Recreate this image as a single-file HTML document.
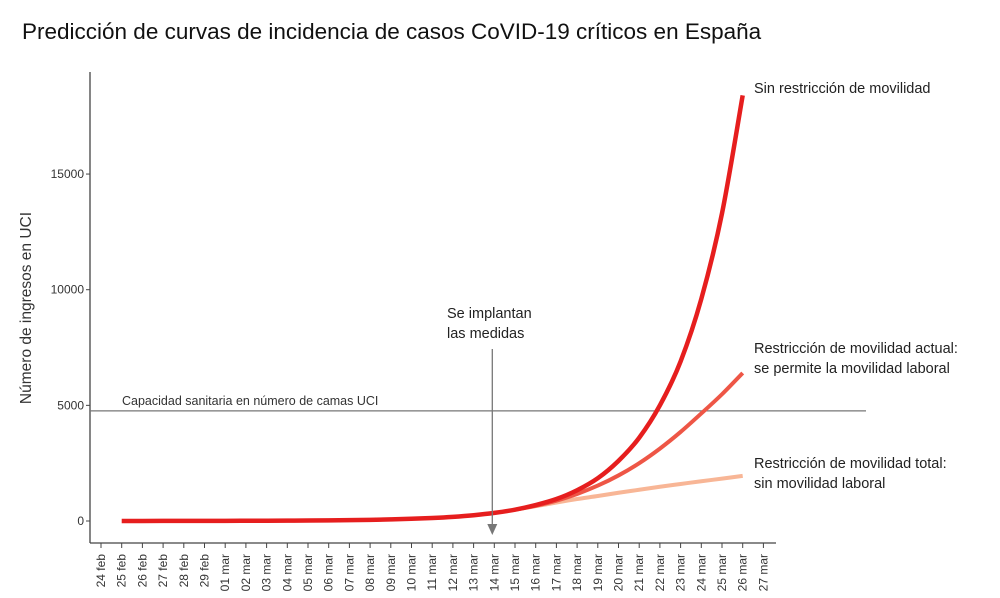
<!DOCTYPE html>
<html><head><meta charset="utf-8"><style>
body{margin:0;background:#fff;}
svg{display:block;font-family:"Liberation Sans",sans-serif;}
</style></head><body>
<svg id="chart" width="1000" height="598">
<text x="22" y="39" font-size="22.5" fill="#111">Predicción de curvas de incidencia de casos CoVID-19 críticos en España</text>
<text transform="translate(31,308) rotate(-90)" text-anchor="middle" font-size="15.5" fill="#333">Número de ingresos en UCI</text>
<g id="axes"></g>
<g id="series"></g>
</svg>
<script>
const dates=["24 feb","25 feb","26 feb","27 feb","28 feb","29 feb","01 mar","02 mar","03 mar","04 mar","05 mar","06 mar","07 mar","08 mar","09 mar","10 mar","11 mar","12 mar","13 mar","14 mar","15 mar","16 mar","17 mar","18 mar","19 mar","20 mar","21 mar","22 mar","23 mar","24 mar","25 mar","26 mar","27 mar"];
const yTicks=[0,5000,10000,15000];
const capacity=4760;
const sinRestriccion=[null,2,2,3,4,5,7,9,12,16,21,28,37,50,70,95,130,180,250,350,490,690,950,1330,1850,2600,3600,5000,6900,9600,13300,18400,null];
const restriccionActual=[null,null,null,null,null,null,null,null,null,null,null,null,null,null,null,null,null,null,null,null,490,660,880,1170,1530,1970,2500,3130,3850,4650,5480,6400,null];
const restriccionTotal=[null,null,null,null,null,null,null,null,null,null,null,null,null,null,null,null,null,null,null,null,490,640,800,950,1080,1220,1350,1480,1600,1720,1830,1950,null];
const measureIndex=19;

const NS="http://www.w3.org/2000/svg";
const x0=101,dx=20.7,y0=521,ky=0.02313;
const X=i=>x0+i*dx, Y=v=>y0-v*ky;
function mk(tag,attrs,parent){const e=document.createElementNS(NS,tag);for(const k in attrs)e.setAttribute(k,attrs[k]);parent.appendChild(e);return e;}
const axes=document.getElementById('axes'), ser=document.getElementById('series');

let yl=mk('line',{x1:90,y1:72,x2:90,y2:543,stroke:'#444','stroke-width':1.3},axes);


let xl=mk('line',{x1:90,y1:543,x2:776,y2:543,stroke:'#444','stroke-width':1.3},axes);



yTicks.forEach(v=>{
  mk('line',{x1:86,y1:Y(v),x2:90,y2:Y(v),stroke:'#444'},axes);
  const t=mk('text',{x:84,y:Y(v)+4,'text-anchor':'end','font-size':12,fill:'#333'},axes);
  t.textContent=v;
  
  
});
dates.forEach((d,i)=>{
  mk('line',{x1:X(i),y1:543,x2:X(i),y2:548,stroke:'#444'},axes);
  const t=mk('text',{transform:`translate(${X(i)+4},554) rotate(-90)`,'text-anchor':'end','font-size':12,fill:'#333'},axes);
  t.textContent=d;
  
  
});

const cap=mk('line',{x1:90,y1:Y(capacity),x2:866,y2:Y(capacity),stroke:'#777','stroke-width':1.3},axes);


const capT=mk('text',{x:122,y:Y(capacity)-6,'font-size':12.5,fill:'#333'},axes);
capT.textContent='Capacidad sanitaria en número de camas UCI';



function path(arr){
  const pts=[];arr.forEach((v,i)=>{if(v!==null)pts.push([X(i),Y(v)]);});
  let d=`M${pts[0][0]},${pts[0][1]}`;
  for(let i=0;i<pts.length-1;i++){
    const p0=pts[i-1]||pts[i],p1=pts[i],p2=pts[i+1],p3=pts[i+2]||p2;
    d+=` C${p1[0]+(p2[0]-p0[0])/6},${p1[1]+(p2[1]-p0[1])/6} ${p2[0]-(p3[0]-p1[0])/6},${p2[1]-(p3[1]-p1[1])/6} ${p2[0]},${p2[1]}`;
  }
  return d;
}
const lt=mk('path',{d:path(restriccionTotal),fill:'none',stroke:'#f8b696','stroke-width':4,'stroke-linecap':'butt'},ser);


const la=mk('path',{d:path(restriccionActual),fill:'none',stroke:'#ee5646','stroke-width':4},ser);


const ls=mk('path',{d:path(sinRestriccion),fill:'none',stroke:'#e61e1e','stroke-width':4.5},ser);



const mx=X(measureIndex)-2;
const arr=mk('line',{x1:mx,y1:349,x2:mx,y2:525,stroke:'#777','stroke-width':1.3},ser);


mk('polygon',{points:`${mx-5},524 ${mx+5},524 ${mx},535`,fill:'#777'},ser);
function label(lines,x,y,name){
  const t=mk('text',{x:x,y:y,'font-size':14.5,fill:'#222'},ser);
  
  
  lines.forEach((l,i)=>{const s=mk('tspan',{x:x,dy:i?20:0},t);s.textContent=l;});
}
label(['Se implantan','las medidas'],447,318,'measures-annotation');
label(['Sin restricción de movilidad'],754,93,'label-sin-restriccion');
label(['Restricción de movilidad actual:','se permite la movilidad laboral'],754,353,'label-restriccion-actual');
label(['Restricción de movilidad total:','sin movilidad laboral'],754,468,'label-restriccion-total');
</script>
</body></html>
